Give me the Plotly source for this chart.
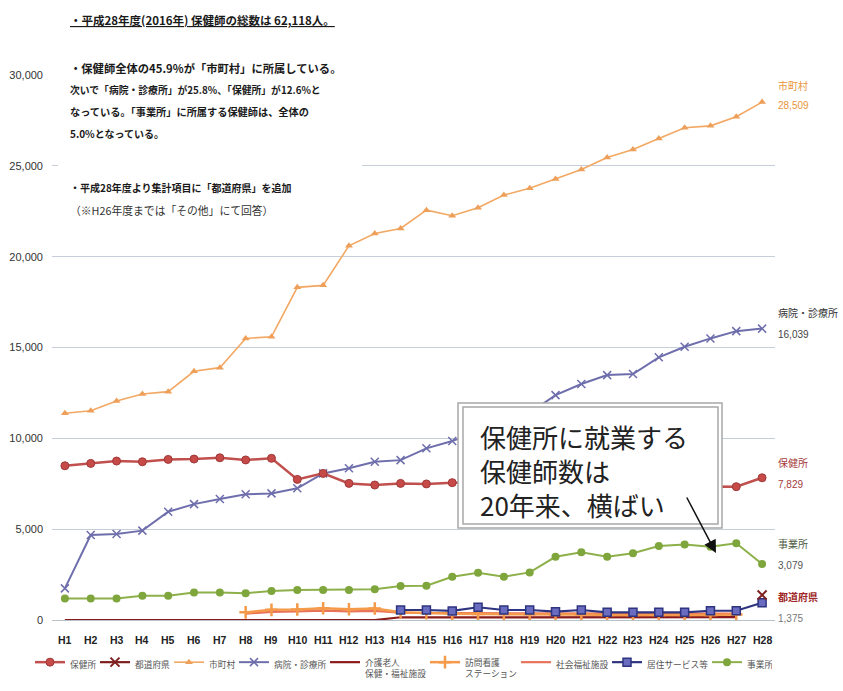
import plotly.graph_objects as go

# ---------------- data ----------------
categories = ["H1", "H2", "H3", "H4", "H5", "H6", "H7", "H8", "H9", "H10", "H11", "H12", "H13", "H14",
              "H15", "H16", "H17", "H18", "H19", "H20", "H21", "H22", "H23", "H24", "H25", "H26", "H27", "H28"]

hokenjo = [8490, 8620, 8750, 8710, 8840, 8860, 8930, 8810, 8900, 7740, 8070, 7520, 7430, 7520,
           7490, 7560, 7600, 7600, 7500, 7450, 7400, 7350, 7300, 7300, 7300, 7350, 7340, 7829]
todofuken = [None] * 27 + [1375]
shichoson = [11380, 11520, 12050, 12440, 12570, 13690, 13890, 15500, 15590, 18310, 18420, 20600, 21280, 21550,
             22560, 22250, 22690, 23390, 23760, 24270, 24800, 25460, 25900, 26510, 27100, 27200, 27700, 28509]
byoin = [1740, 4680, 4730, 4920, 5960, 6380, 6660, 6920, 6970, 7250, 8070, 8350, 8710, 8800,
         9450, 9850, 10400, 10900, 11400, 12380, 12990, 13480, 13540, 14460, 15040, 15500, 15900, 16039]
kaigo = [0] * 13 + [150, 160, 160, 150, 150, 150, 150, 160, 160, 150, 150, 150, 160, 160, None]
houmon = [None] * 7 + [420, 560, 580, 650, 590, 630, 430, 380, 350, 330, 330, 320, 300,
                       300, 280, 270, 270, 270, 280, 300, None]
shakai = [None] * 7 + [350, 450, 480, 520, 480, 500, 400, 380, 370, 380, 360, 360, 350,
                       340, 330, 330, 320, 330, 340, 350, None]
kyotaku = [None] * 13 + [550, 550, 500, 700, 550, 550, 460, 550, 420, 420, 420, 420, 510, 510, 950]
jigyosho = [1190, 1190, 1190, 1340, 1340, 1520, 1520, 1470, 1600, 1650, 1650, 1650, 1690, 1870,
            1890, 2380, 2600, 2380, 2620, 3480, 3730, 3480, 3670, 4070, 4160, 4030, 4220, 3079]

y_ticks = [0, 5000, 10000, 15000, 20000, 25000, 30000]

# ---------------- geometry helpers ----------------
W, H = 843, 691
ML, MR, MT, MB = 52, 68, 75, 71
PW, PH = W - ML - MR, H - MT - MB


def pxx(x):
    return (x - ML) / PW


def pxy(y):
    return (H - MB - y) / PH


JP = "Noto Sans CJK JP"
NUM = "Liberation Sans Narrow, Liberation Sans, Arial"
LEG_FS = 8.7

fig = go.Figure()


def add(name, vals, color, rank, lw, width=2, symbol=None, msize=7, mcolor=None, mline=None, mlw=0):
    marker = None
    mode = "lines"
    if symbol:
        mode = "lines+markers"
        marker = dict(symbol=symbol, size=msize, color=mcolor or color,
                      line=dict(color=mline or color, width=mlw))
    fig.add_trace(go.Scatter(x=categories, y=vals, name=name, mode=mode,
                             line=dict(color=color, width=width), marker=marker,
                             legendrank=rank, legendwidth=lw, connectgaps=False, hoverinfo="skip"))


add("介護老人<br>保健・福祉施設", kaigo, "#8b1a1a", 5, 55, width=2.2)
add("社会福祉施設", shakai, "#e8735a", 7, 46, width=2.2)
add("訪問看護<br>ステーション", houmon, "#f59a4a", 6, 46, width=2.5, symbol="cross-thin-open", msize=9, mlw=2.5)
add("居住サービス等", kyotaku, "#2e347f", 8, 55, width=2.2, symbol="square", msize=8,
    mcolor="#6a6cc0", mline="#2e347f", mlw=1.5)
add("事業所", jigyosho, "#8db04a", 9, 20, width=2, symbol="circle", msize=8, mcolor="#7ea63c")
add("市町村", shichoson, "#f2a863", 3, 20, width=1.6, symbol="triangle-up", msize=7, mcolor="#eea05a")
add("病院・診療所", byoin, "#6e6eac", 4, 46, width=2, symbol="x-thin-open", msize=8, mlw=1.5)
add("保健所", hokenjo, "#c0504d", 1, 20, width=2.5, symbol="circle", msize=8, mcolor="#c64a48",
    mline="#a03838", mlw=1)
add("都道府県", todofuken, "#7f2020", 2, 29, width=2.2, symbol="x-thin-open", msize=9, mlw=2)

# ---------------- shapes ----------------
shapes = [
    dict(type="rect", xref="paper", yref="paper", x0=pxx(58), x1=pxx(362), y0=pxy(232), y1=pxy(0),
         fillcolor="white", line=dict(width=0), layer="above"),
    dict(type="rect", xref="paper", yref="paper", x0=pxx(458), x1=pxx(722), y0=pxy(528), y1=pxy(403),
         fillcolor="white", line=dict(color="#a8a8a8", width=1.5), layer="above"),
    dict(type="rect", xref="paper", yref="paper", x0=pxx(463), x1=pxx(718), y0=pxy(524), y1=pxy(407),
         fillcolor="rgba(0,0,0,0)", line=dict(color="#a8a8a8", width=1.5), layer="above"),
]

# ---------------- annotations ----------------
ann = []

# category labels under the axis (placed through the x axis scale)
for c in categories:
    ann.append(dict(text=c, xref="x", yref="paper", x=c, y=pxy(640), xanchor="center",
                    yanchor="middle", showarrow=False,
                    font=dict(family=NUM, size=10.5, color="#222222", weight="bold")))

top_lines = [
    (20, "<b><u>・平成28年度(2016年) 保健師の総数は 62,118人。</u></b>", "#1a1a1a", 11.5),
    (68, "<b>・保健師全体の45.9%が「市町村」に所属している。</b>", "#1a1a1a", 11.3),
    (90, "<b>次いで「病院・診療所」が25.8%、「保健所」が12.6%と</b>", "#1a1a1a", 9.8),
    (112, "<b>なっている。「事業所」に所属する保健師は、全体の</b>", "#1a1a1a", 10.2),
    (134, "<b>5.0%となっている。</b>", "#1a1a1a", 10),
    (188, "<b>・平成28年度より集計項目に「都道府県」を追加</b>", "#1a1a1a", 10),
    (210, "（※H26年度までは「その他」にて回答）", "#333333", 10.8),
]
for y, t, c, s in top_lines:
    ann.append(dict(text=t, xref="paper", yref="paper", x=pxx(68), y=pxy(y), xanchor="left",
                    yanchor="middle", showarrow=False, font=dict(family=JP, size=s, color=c)))

ann.append(dict(text="保健所に就業する<br>保健師数は<br>20年来、横ばい", xref="paper", yref="paper",
                x=pxx(478), y=pxy(470), xanchor="left", yanchor="middle", align="left",
                showarrow=False, font=dict(family=JP, size=26, color="#222222")))

# arrow
ann.append(dict(text="", xref="paper", yref="paper", x=pxx(716), y=pxy(553), ax=-30, ay=-57,
                showarrow=True, arrowhead=2, arrowsize=1.7, arrowwidth=1.5, arrowcolor="#111111"))

right_labels = [
    (85, "市町村", "#e8953a", JP), (106, "28,509", "#e8953a", NUM),
    (312, "病院・診療所", "#333333", JP), (334, "16,039", "#444444", NUM),
    (462, "保健所", "#a63a3a", JP), (484, "7,829", "#a63a3a", NUM),
    (543, "事業所", "#4d5a45", JP), (565, "3,079", "#555555", NUM),
    (596, "<b>都道府県</b>", "#a02828", JP), (618, "1,375", "#777777", NUM),
]
for y, t, c, f in right_labels:
    ann.append(dict(text=t, xref="paper", yref="paper", x=pxx(776), y=pxy(y), xanchor="left",
                    yanchor="middle", showarrow=False, font=dict(family=f, size=10, color=c)))

fig.update_layout(
    width=W, height=H,
    margin=dict(l=ML, r=MR, t=MT, b=MB, autoexpand=False),
    paper_bgcolor="white", plot_bgcolor="white",
    showlegend=True,
    legend=dict(orientation="h", xref="paper", yref="paper", x=pxx(30), y=pxy(650),
                xanchor="left", yanchor="top", valign="top",
                font=dict(family=JP, size=LEG_FS, color="#555555"),
                itemwidth=30, bgcolor="rgba(0,0,0,0)", traceorder="normal"),
    xaxis=dict(type="category", categoryorder="array", categoryarray=categories,
               range=[-0.5, 27.5], showgrid=False, showline=False, zeroline=False,
               ticks="", showticklabels=False, automargin=False),
    yaxis=dict(range=[0, 30000], tickvals=y_ticks, tickformat=",", showgrid=True,
               gridcolor="#c6cfd9", gridwidth=1, zeroline=True, zerolinecolor="#b8c0c8",
               zerolinewidth=1, showline=False, ticks="", ticklabelstandoff=8, automargin=False,
               tickfont=dict(family=NUM, size=11, color="#333333")),
    shapes=shapes,
    annotations=ann,
)

fig.write_html("out.html", post_script="document.body.style.margin='0';",
               config={"responsive": False, "displayModeBar": False})
